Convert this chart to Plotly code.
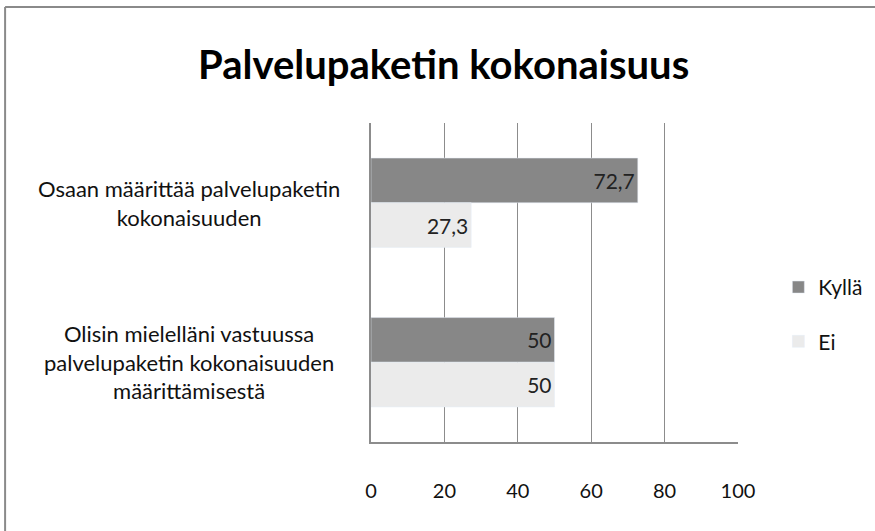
import plotly.graph_objects as go

# data
categories = ["Osaan määrittää palvelupaketin<br>kokonaisuuden",
              "Olisin mielelläni vastuussa<br>palvelupaketin kokonaisuuden<br>määrittämisestä"]
kylla = [72.7, 50]
ei = [27.3, 50]
x_ticks = [0, 20, 40, 60, 80, 100]

FONT = "Liberation Sans Narrow, Lato, Noto Sans, sans-serif"


def fmt(v):
    return ("%g" % v).replace(".", ",")


fig = go.Figure()
fig.add_trace(go.Bar(
    y=categories, x=kylla, name="Kyllä", orientation="h",
    marker=dict(color="#878787"),
    text=[fmt(v) for v in kylla], textposition="inside", insidetextanchor="end",
    textfont=dict(color="#222222", size=21, family=FONT),
    legendgroup="a", showlegend=True,
))
fig.add_trace(go.Bar(
    y=categories, x=ei, name="Ei", orientation="h",
    marker=dict(color="#ebebeb"),
    text=[fmt(v) for v in ei], textposition="inside", insidetextanchor="end",
    textfont=dict(color="#222222", size=21, family=FONT),
    legendgroup="b", showlegend=True,
))

# category labels, centred like the original
for c in categories:
    fig.add_annotation(
        x=-0.495, xref="paper", y=c, yref="y", text=c, showarrow=False,
        xanchor="center", yanchor="middle", align="center",
        font=dict(size=22, color="#111111", family=FONT),
    )

# outer chart border: only the top and left edges fall inside the picture
fig.add_shape(type="line", xref="paper", yref="paper",
              x0=-0.997, x1=1.5, y0=1.364, y1=1.364,
              line=dict(color="#8a8a8a", width=2))
fig.add_shape(type="line", xref="paper", yref="paper",
              x0=-0.997, x1=-0.997, y0=-0.5, y1=1.364,
              line=dict(color="#8a8a8a", width=2))

fig.update_layout(
    width=875, height=531,
    paper_bgcolor="white", plot_bgcolor="white",
    margin=dict(l=371, r=137, t=123, b=89, autoexpand=False),
    barmode="group", bargap=0.44, bargroupgap=0,
    title=dict(text="<b>Palvelupaketin kokonaisuus</b>", x=0.507, xanchor="center",
               y=0.878, yanchor="middle",
               font=dict(size=40, color="#000000", family=FONT)),
    legend=dict(x=1.11, y=0.40, xanchor="left", yanchor="middle",
                traceorder="grouped", tracegroupgap=24,
                font=dict(size=21, color="#111111", family=FONT),
                bgcolor="rgba(0,0,0,0)"),
    xaxis=dict(range=[0, 100], tickvals=x_ticks, showgrid=True, gridcolor="#8c8c8c",
               gridwidth=1.3, zeroline=False, showline=True, linecolor="#8c8c8c",
               linewidth=1.5, ticks="", ticklabelstandoff=30,
               tickfont=dict(size=20, color="#111111", family=FONT), mirror=False),
    yaxis=dict(autorange="reversed", showticklabels=False, showline=True,
               linecolor="#8c8c8c", linewidth=1.5, ticks="", showgrid=False),
    showlegend=True,
)

fig.write_html("out.html", config={"displayModeBar": False},
               post_script="document.body.style.margin='0';"
                           "document.documentElement.style.overflow='hidden';"
                           "document.body.style.overflow='hidden';")
